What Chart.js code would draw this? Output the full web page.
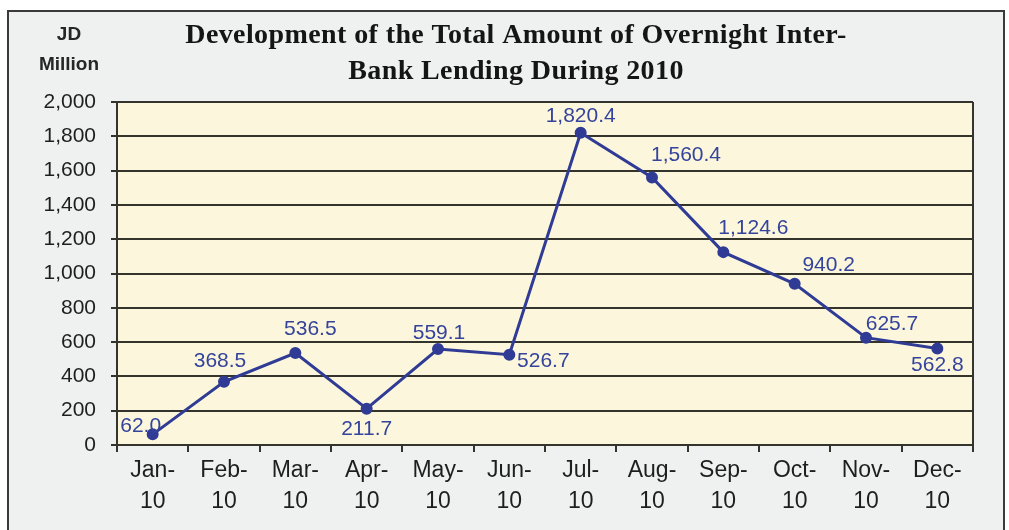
<!DOCTYPE html>
<html>
<head>
<meta charset="utf-8">
<script src="https://cdn.jsdelivr.net/npm/chart.js@4"></script>
<style>
  html, body { margin: 0; padding: 0; background: #ffffff; }
  #wrap { width: 1009px; height: 530px; }
</style>
</head>
<body>
<div id="wrap"><canvas id="lending" width="1009" height="530"></canvas></div>
<script>
// Overnight inter-bank lending, JD million, 2010
const months = ["Jan", "Feb", "Mar", "Apr", "May", "Jun", "Jul", "Aug", "Sep", "Oct", "Nov", "Dec"];
const yearSuffix = "10";
const lending = [62.0, 368.5, 536.5, 211.7, 559.1, 526.7, 1820.4, 1560.4, 1124.6, 940.2, 625.7, 562.8];
const yTicks = [0, 200, 400, 600, 800, 1000, 1200, 1400, 1600, 1800, 2000];

const titleLines = ["Development of the Total Amount of Overnight Inter-", "Bank Lending During 2010"];
const unitLines = ["JD", "Million"];

const lineBlue = "#2f3b94";
const labelBlue = "#34439c";
const gridDark = "#34342c";

// where each value label sits relative to its point
const labelOffsets = [
  [-12, -8], [-4, -21], [15, -24], [0, 21], [1, -16], [34, 7],
  [0, -17], [34, -22], [30, -24], [34, -19], [26, -13], [0, 17]
];

const frameAndTitle = {
  id: "frameAndTitle",
  beforeDraw(chart) {
    const { ctx, chartArea: a } = chart;
    ctx.save();
    ctx.fillStyle = "#ffffff";
    ctx.fillRect(0, 0, chart.width, chart.height);
    ctx.fillStyle = "#eef1f0";
    ctx.fillRect(8, 11, 996, 522);
    ctx.strokeStyle = "#3a3a3a";
    ctx.lineWidth = 2;
    ctx.strokeRect(8, 11, 996, 522);
    ctx.fillStyle = "#fcf7dc";
    ctx.fillRect(a.left, a.top, a.right - a.left, a.bottom - a.top);

    // title
    ctx.fillStyle = "#151515";
    ctx.textAlign = "center";
    ctx.textBaseline = "alphabetic";
    ctx.font = "bold 28px 'Liberation Serif'";
    ctx.letterSpacing = "0.4px";
    ctx.fillText(titleLines[0], 516, 43);
    ctx.fillText(titleLines[1], 516, 79);
    ctx.letterSpacing = "0px";

    // unit label
    ctx.font = "bold 19px 'Liberation Sans'";
    ctx.fillStyle = "#262626";
    ctx.textBaseline = "middle";
    ctx.fillText(unitLines[0], 69, 35);
    ctx.fillText(unitLines[1], 69, 65);
    ctx.restore();
  },
  afterDraw(chart) {
    const { ctx, chartArea: a } = chart;
    ctx.save();
    ctx.strokeStyle = gridDark;
    ctx.lineWidth = 2;
    ctx.beginPath();
    ctx.moveTo(a.right, a.top);
    ctx.lineTo(a.right, a.bottom);
    ctx.stroke();
    ctx.restore();
  }
};

const valueLabels = {
  id: "valueLabels",
  afterDatasetsDraw(chart) {
    const { ctx, chartArea: a } = chart;
    const meta = chart.getDatasetMeta(0);
    ctx.save();
    ctx.beginPath();
    ctx.rect(a.left + 1, 0, chart.width, chart.height);
    ctx.clip();
    ctx.font = "21px 'Liberation Sans'";
    ctx.fillStyle = labelBlue;
    ctx.textAlign = "center";
    ctx.textBaseline = "middle";
    meta.data.forEach((pt, i) => {
      const v = chart.data.datasets[0].data[i];
      const [dx, dy] = labelOffsets[i];
      ctx.fillText(v.toLocaleString("en-US", { minimumFractionDigits: 1, maximumFractionDigits: 1 }), pt.x + dx, pt.y + dy);
    });
    ctx.restore();
  }
};

new Chart(document.getElementById("lending"), {
  type: "line",
  data: {
    labels: months.map(m => [m + "-", yearSuffix]),
    datasets: [{
      data: lending,
      borderColor: lineBlue,
      backgroundColor: lineBlue,
      borderWidth: 3,
      pointRadius: 4.5,
      pointBackgroundColor: lineBlue,
      pointBorderColor: lineBlue,
      tension: 0
    }]
  },
  options: {
    responsive: false,
    animation: false,
    layout: { padding: { left: 0, top: 102, right: 36, bottom: 0 } },
    plugins: {
      legend: { display: false },
      tooltip: { enabled: false }
    },
    scales: {
      x: {
        offset: true,
        grid: {
          offset: true,
          drawOnChartArea: false,
          drawTicks: true,
          tickLength: 7,
          color: gridDark,
          lineWidth: 2
        },
        border: { color: gridDark, width: 2 },
        ticks: {
          color: "#1e1e1e",
          font: { family: "Liberation Sans", size: 23, lineHeight: 1.35 },
          padding: 3,
          maxRotation: 0
        },
        afterFit(scale) { scale.height = 85; }
      },
      y: {
        min: 0,
        max: 2000,
        afterBuildTicks(scale) { scale.ticks = yTicks.map(v => ({ value: v })); },
        grid: {
          color: gridDark,
          lineWidth: 2,
          tickLength: 6
        },
        border: { color: gridDark, width: 2 },
        ticks: {
          color: "#1e1e1e",
          font: { family: "Liberation Sans", size: 21 },
          padding: 15,
          callback: v => v.toLocaleString("en-US")
        },
        afterFit(scale) { scale.width = 117; }
      }
    }
  },
  plugins: [frameAndTitle, valueLabels]
});
</script>
</body>
</html>
